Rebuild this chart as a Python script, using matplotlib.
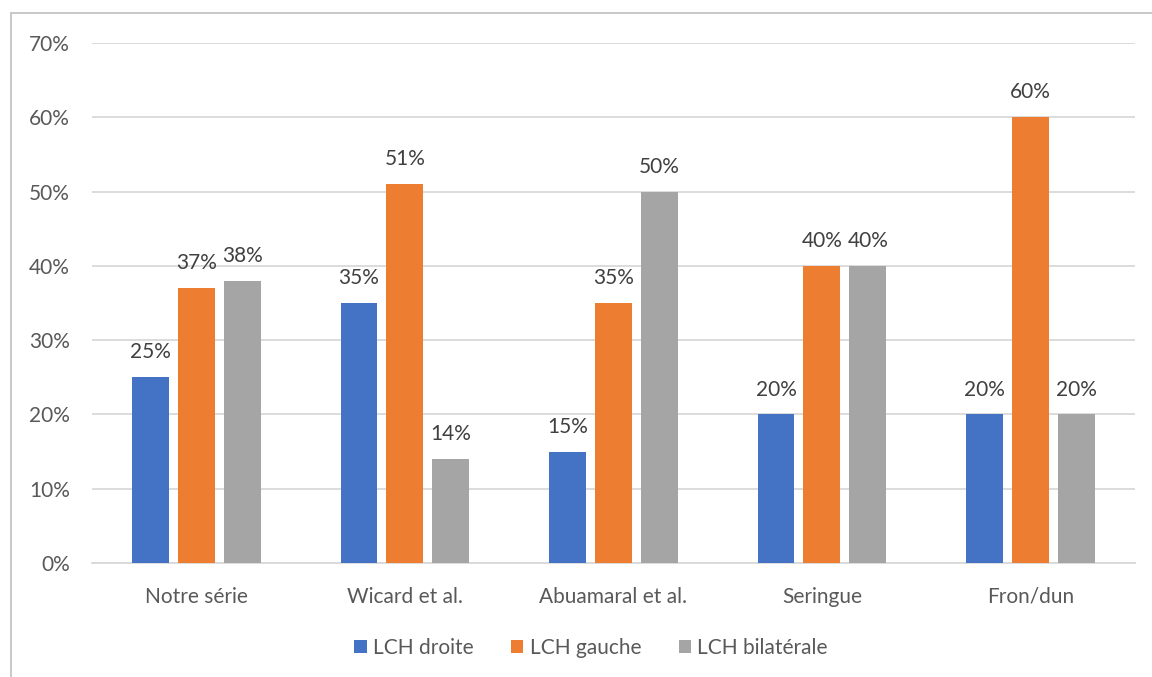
import matplotlib
matplotlib.use("Agg")
import matplotlib.pyplot as plt
import numpy as np
from matplotlib.patches import Rectangle

categories = ["Notre série", "Wicard et al.", "Abuamaral et al.", "Seringue", "Fron/dun"]
series_names = ["LCH droite", "LCH gauche", "LCH bilatérale"]
droite = [25, 35, 15, 20, 20]
gauche = [37, 51, 35, 40, 60]
bilaterale = [38, 14, 50, 40, 20]
colors = ["#4472C4", "#ED7D31", "#A5A5A5"]

plt.rcParams['font.family'] = ['Lato', 'DejaVu Sans']

fig = plt.figure(figsize=(11.52, 6.77), dpi=100)
ax = fig.add_axes([0.0799, 0.1684, 0.9051, 0.7681])

x = np.arange(len(categories))
width = 0.177
step = 0.22
for i, (vals, name, c) in enumerate(zip([droite, gauche, bilaterale], series_names, colors)):
    pos = x + (i - 1) * step
    bars = ax.bar(pos, vals, width, color=c, label=name, zorder=3)
    for b, v in zip(bars, vals):
        ax.text(b.get_x() + b.get_width() / 2, v + 2.0, f"{v}%", ha="center", va="bottom",
                fontsize=15, color="#404040")

ax.set_ylim(0, 70)
ax.set_xlim(-0.5, len(categories) - 0.5)
ax.set_yticks(range(0, 71, 10))
ax.set_yticklabels([f"{t}%" for t in range(0, 71, 10)])
ax.set_xticks(x)
ax.set_xticklabels(categories)
ax.tick_params(axis='both', length=0, labelsize=15, labelcolor="#595959")
ax.tick_params(axis='y', pad=16)
ax.tick_params(axis='x', pad=17)
ax.grid(axis='y', color="#D9D9D9", linewidth=1.3, zorder=0)
for s in ["top", "right", "left"]:
    ax.spines[s].set_visible(False)
ax.spines["bottom"].set_color("#D9D9D9")
ax.spines["bottom"].set_linewidth(1.3)

leg = fig.legend(loc="center", bbox_to_anchor=(0.513, 0.043), ncol=3, frameon=False,
                 fontsize=15, handlelength=0.6, handleheight=0.6, handletextpad=0.3,
                 columnspacing=1.8)
for t in leg.get_texts():
    t.set_color("#595959")

fig.patches.append(Rectangle((11 / 1152, -0.05), 1.2, 1 - 13 / 677 + 0.05, transform=fig.transFigure,
                             fill=False, edgecolor="#BFBFBF", linewidth=1.2))

fig.savefig("out.png", dpi=100, facecolor="white")
